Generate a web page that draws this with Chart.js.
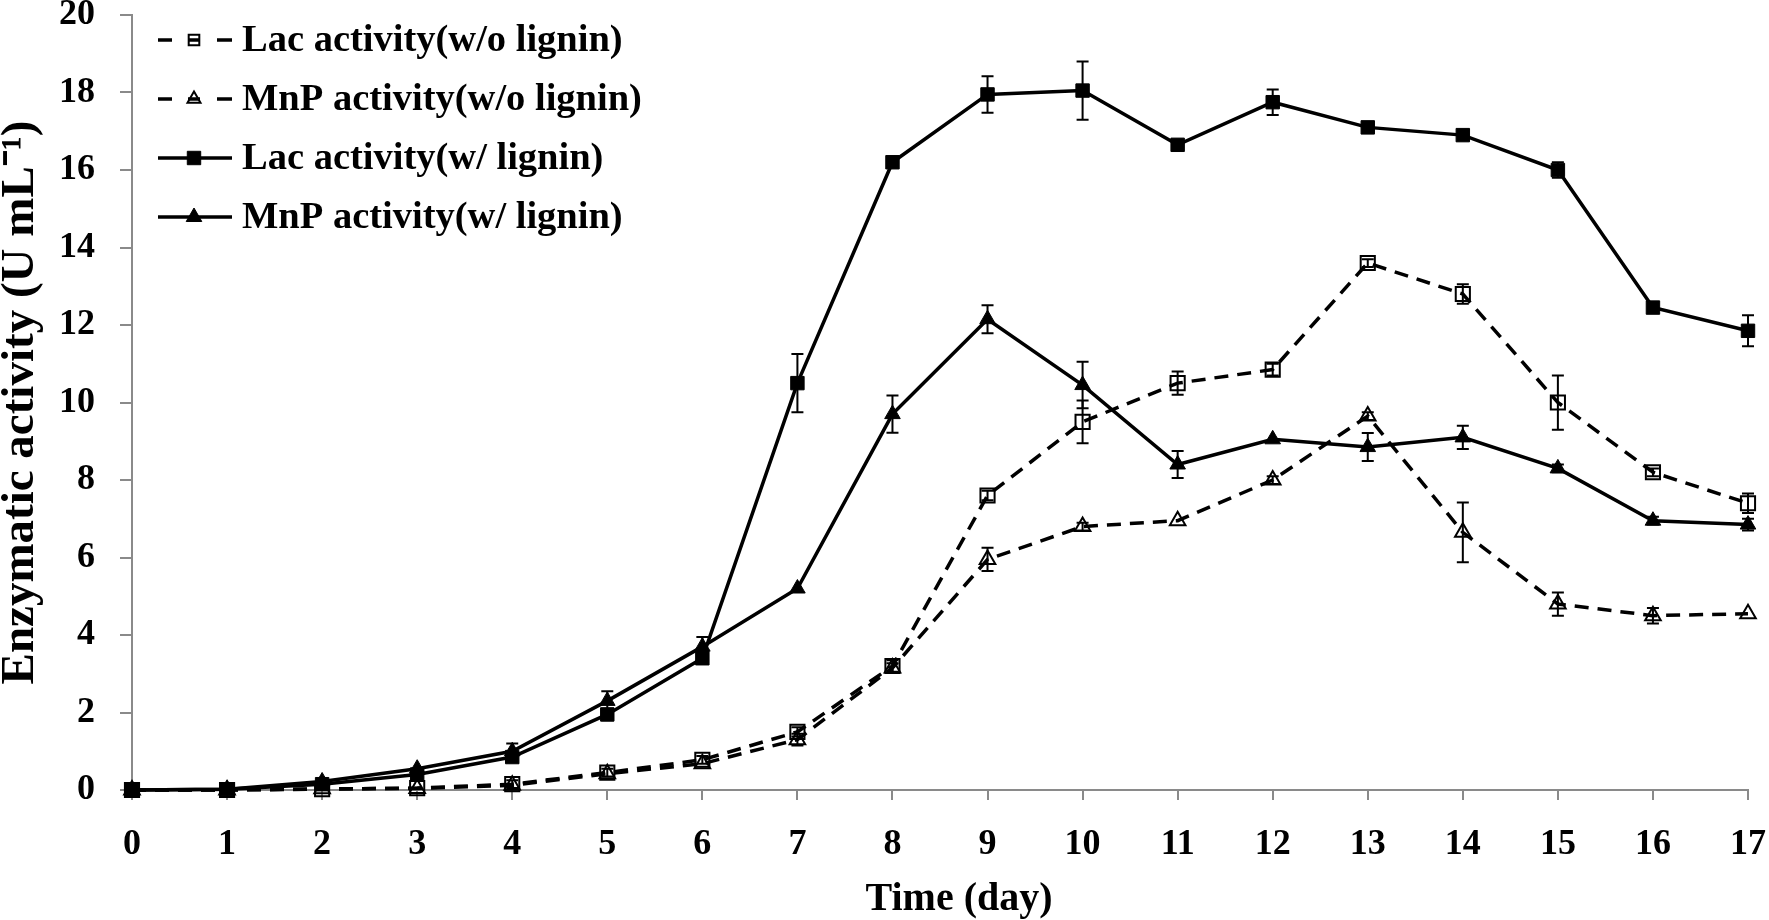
<!DOCTYPE html>
<html><head><meta charset="utf-8">
<script src="https://cdn.jsdelivr.net/npm/chart.js@4.4.1/dist/chart.umd.min.js"></script>
<style>html,body{margin:0;padding:0;background:#fff;}#wrap{width:1769px;height:920px;}</style>
</head><body><div id="wrap"><canvas id="c" width="1769" height="920"></canvas></div>
<script>
// ---------- data ----------
const days = [0,1,2,3,4,5,6,7,8,9,10,11,12,13,14,15,16,17];
const seriesLabels = ['Lac activity(w/o lignin)','MnP activity(w/o lignin)','Lac activity(w/ lignin)','MnP activity(w/ lignin)'];
const lacWithout    = [0,0,0.02,0.05,0.15,0.45,0.78,1.5,3.2,7.6,9.5,10.5,10.85,13.6,12.8,10.0,8.2,7.4];
const lacWithoutErr = [0,0,0.02,0.03,0.1,0.1,0.1,0.12,0.15,0.12,0.55,0.3,0.15,0.1,0.25,0.7,0.1,0.25];
const mnpWithout    = [0,0,0.03,0.04,0.12,0.42,0.68,1.3,3.15,5.95,6.8,6.95,8.0,9.65,6.65,4.8,4.5,4.55];
const mnpWithoutErr = [0,0,0.02,0.03,0.05,0.08,0.08,0.15,0.12,0.3,0.1,0.05,0.1,0.1,0.77,0.3,0.2,0.05];
const lacWith       = [0,0.02,0.15,0.4,0.85,1.95,3.4,10.5,16.2,17.95,18.05,16.65,17.75,17.1,16.9,16.0,12.45,11.85];
const lacWithErr    = [0,0,0.05,0.1,0.1,0.15,0.15,0.75,0.1,0.47,0.75,0.1,0.33,0.05,0.05,0.2,0.05,0.4];
const mnpWith       = [0,0.02,0.22,0.55,1.0,2.3,3.7,5.2,9.7,12.15,10.45,8.4,9.05,8.85,9.1,8.3,6.95,6.85];
const mnpWithErr    = [0,0,0.05,0.08,0.2,0.25,0.25,0.08,0.48,0.36,0.6,0.35,0.05,0.36,0.3,0.1,0.1,0.15];
const yTicks = [0,2,4,6,8,10,12,14,16,18,20];
const xTitle = 'Time (day)';
const yTitle = 'Enzymatic activity (U mL\u207B\u00B9)';

// ---------- build ----------
const toPts = arr => arr.map((v,i)=>({x:days[i], y:v}));
const FONT = '"Liberation Serif","Times New Roman",serif';
const dashed = [14,9];
const datasets = [
  {label:seriesLabels[0], data:toPts(lacWithout), borderDash:dashed, pointStyle:'rect', pointRadius:10, legendRadius:7.5, pointBackgroundColor:'rgba(0,0,0,0)', pointBorderWidth:2, open:true},
  {label:seriesLabels[1], data:toPts(mnpWithout), borderDash:dashed, pointStyle:'triangle', pointRadius:9, legendRadius:7.5, pointBackgroundColor:'rgba(0,0,0,0)', pointBorderWidth:2, open:true},
  {label:seriesLabels[2], data:toPts(lacWith), borderDash:[], pointStyle:'rect', pointRadius:9.5, legendRadius:9.5, pointBackgroundColor:'#000', pointBorderWidth:1},
  {label:seriesLabels[3], data:toPts(mnpWith), borderDash:[], pointStyle:'triangle', pointRadius:9, legendRadius:9, pointBackgroundColor:'#000', pointBorderWidth:1}
].map(d=>Object.assign({borderColor:'#000', borderWidth:3.5, pointBorderColor:'#000', tension:0, clip:false, fill:false}, d));
const errorSets = [lacWithoutErr, mnpWithoutErr, lacWithErr, mnpWithErr];

const errorBars = {
  id:'errorBars',
  afterDatasetsDraw(chart){
    const ctx = chart.ctx, xs = chart.scales.x, ys = chart.scales.y;
    ctx.save();
    ctx.strokeStyle = '#000'; ctx.lineWidth = 2; ctx.setLineDash([]);
    chart.data.datasets.forEach((ds,i)=>{
      const errs = errorSets[i];
      ds.data.forEach((p,j)=>{
        const e = errs[j]; if(!e || e < 0.09) return;
        const x = xs.getPixelForValue(p.x);
        const y1 = ys.getPixelForValue(p.y+e), y2 = ys.getPixelForValue(p.y-e);
        ctx.beginPath();
        ctx.moveTo(x,y1); ctx.lineTo(x,y2);
        ctx.moveTo(x-6,y1); ctx.lineTo(x+6,y1);
        ctx.moveTo(x-6,y2); ctx.lineTo(x+6,y2);
        ctx.stroke();
      });
    });
    ctx.restore();
  }
};

const innerLegend = {
  id:'innerLegend',
  afterDraw(chart){
    const ctx = chart.ctx, area = chart.chartArea;
    const x0 = area.left + 26, x1 = x0 + 74, mx = x0 + 36, tx = x0 + 84;
    ctx.save();
    chart.data.datasets.forEach((ds,i)=>{
      const y = area.top + 25 + i*59;
      ctx.strokeStyle = '#000'; ctx.lineWidth = ds.borderWidth;
      ctx.setLineDash([]);
      ctx.beginPath();
      if (ds.open) {
        ctx.moveTo(x0,y); ctx.lineTo(x0+14,y);
        ctx.moveTo(mx-6,y); ctx.lineTo(mx+6,y);
        ctx.moveTo(x1-15,y); ctx.lineTo(x1,y);
      } else { ctx.moveTo(x0,y); ctx.lineTo(x1,y); }
      ctx.stroke();
      ctx.fillStyle = ds.pointBackgroundColor; ctx.strokeStyle = '#000';
      ctx.lineWidth = ds.pointBorderWidth;
      Chart.helpers.drawPoint(ctx, {pointStyle:ds.pointStyle, radius:ds.legendRadius, rotation:0, borderWidth:ds.pointBorderWidth}, mx, y);
      ctx.fillStyle = '#000';
      ctx.font = 'bold 38.5px ' + FONT;
      ctx.textBaseline = 'middle'; ctx.textAlign = 'left';
      ctx.fillText(ds.label, tx, y+1);
    });
    // x axis title (offset slightly right of plot centre, as in the source figure)
    ctx.font = 'bold 40px ' + FONT;
    ctx.textAlign = 'center'; ctx.textBaseline = 'middle';
    ctx.fillText(xTitle, (area.left + area.right)/2 + 19, 900);
    ctx.restore();
  }
};

const AX = '#8a8a8a';
new Chart(document.getElementById('c'), {
  type:'line',
  data:{datasets},
  plugins:[errorBars, innerLegend],
  options:{
    responsive:false, animation:false, devicePixelRatio:1,
    layout:{padding:{left:0,right:21,top:15,bottom:0}},
    plugins:{legend:{display:false}, tooltip:{enabled:false}},
    scales:{
      x:{type:'linear', min:0, max:17,
        afterBuildTicks(s){ s.ticks = days.map(v=>({value:v})); },
        afterFit(s){ s.height = 130; s.paddingLeft = 0; s.paddingRight = 0; },
        ticks:{color:'#000', font:{family:FONT, size:36, weight:'bold'}, padding:23, maxRotation:0, autoSkip:false},
        grid:{drawOnChartArea:false, drawTicks:true, tickLength:10, color:AX, lineWidth:2},
        border:{display:true, color:AX, width:2},
        title:{display:false}
      },
      y:{type:'linear', min:0, max:20,
        afterBuildTicks(s){ s.ticks = yTicks.map(v=>({value:v})); },
        afterFit(s){ s.width = 132; s.paddingTop = 0; s.paddingBottom = 0; },
        ticks:{color:'#000', font:{family:FONT, size:36, weight:'bold'}, padding:25},
        grid:{drawOnChartArea:false, drawTicks:true, tickLength:12, color:AX, lineWidth:2},
        border:{display:true, color:AX, width:2},
        title:{display:true, text:yTitle, color:'#000', font:{family:FONT, size:47, weight:'bold', lineHeight:0.9}, padding:0}
      }
    }
  }
});
</script></body></html>
